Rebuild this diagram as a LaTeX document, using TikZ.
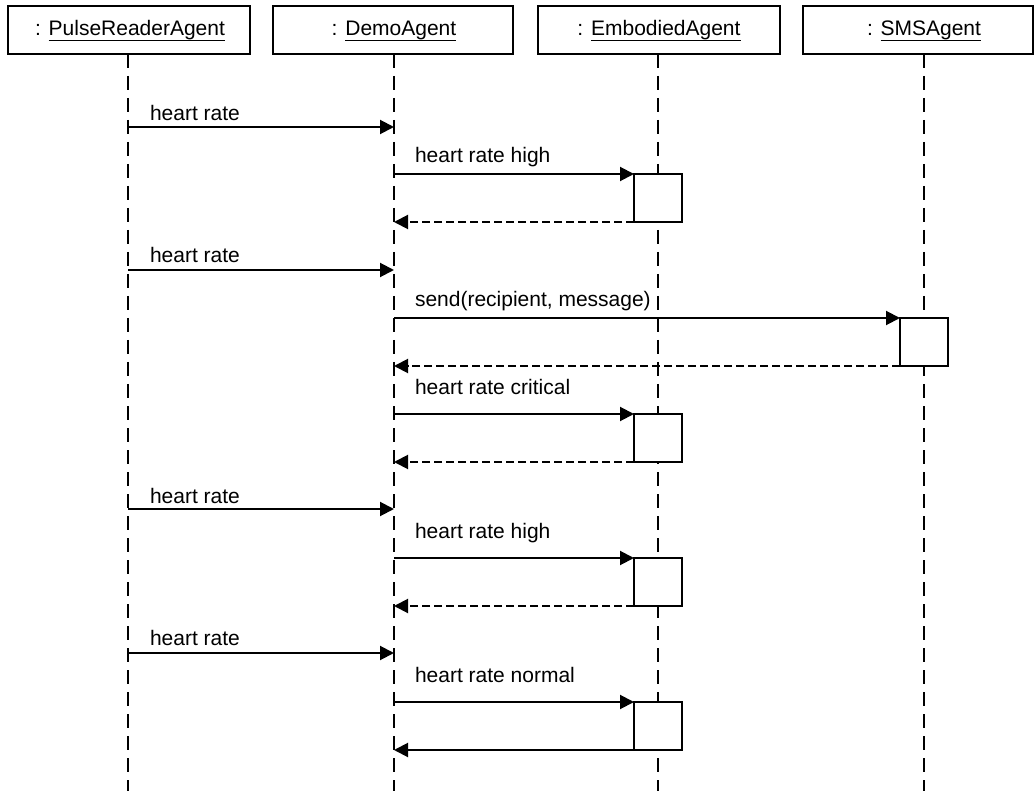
\documentclass[tikz,border=0pt]{standalone}
\usepackage{fontspec}
\setmainfont{Liberation Sans}
\usetikzlibrary{arrows.meta}

% underline drawn as a thin rule just under the baseline
\newcommand\undername[1]{\setbox0\hbox{#1}\rlap{\vrule width\wd0 height -4pt depth 5.5pt}\box0}

\begin{document}
\begin{tikzpicture}[x=1pt,y=-1pt,
  font=\fontsize{21}{25}\selectfont,
  head/.style={draw, line width=2pt, minimum height=48pt, inner sep=0pt, outer sep=0pt},
  headtext/.style={anchor=base, inner sep=0pt},
  life/.style={line width=2pt, dash pattern=on 14pt off 8pt},
  act/.style={draw, fill=white, line width=2pt, minimum width=48pt, minimum height=48pt,
              inner sep=0pt, outer sep=0pt, anchor=north},
  msg/.style={line width=2pt, -{Triangle[length=14pt,width=14pt]}},
  ret/.style={msg, dash pattern=on 8pt off 4pt},
  lbl/.style={anchor=base west, inner sep=0pt}
]
\useasboundingbox (0,0) rectangle (1036,791);

% object heads
\node[head, minimum width=242pt] (pr)   at (129,30) {};
\node[head, minimum width=240pt] (demo) at (393,30) {};
\node[head, minimum width=242pt] (emb)  at (659,30) {};
\node[head, minimum width=230pt] (sms)  at (918,30) {};
\node[headtext] (prt)   at (130,36) {: \undername{PulseReaderAgent}};
\node[headtext] (demot) at (394,36) {: \undername{DemoAgent}};
\node[headtext] (embt)  at (659,36) {: \undername{EmbodiedAgent}};
\node[headtext] (smst)  at (924,36) {: \undername{SMSAgent}};

% lifeline ends
\coordinate (prb)   at (128,791);
\coordinate (demob) at (394,791);
\coordinate (embb)  at (658,791);
\coordinate (smsb)  at (924,791);
\draw[life] (prb |- pr.south) -- (prb);
\draw[life] (demob |- demo.south) -- (demob);
\draw[life] (embb |- emb.south) -- (embb);
\draw[life] (smsb |- sms.south) -- (smsb);

% activation boxes
\node[act] (e1) at (658,174) {};
\node[act] (s1) at (924,318) {};
\node[act] (e2) at (658,414) {};
\node[act] (e3) at (658,558) {};
\node[act] (e4) at (658,702) {};

% message end points on the lifelines
\coordinate (p1) at (128,127); \coordinate (d1) at (394,127);
\coordinate (d2) at (394,174); \coordinate (d2r) at (394,222);
\coordinate (p3) at (128,270); \coordinate (d3) at (394,270);
\coordinate (d4) at (394,318); \coordinate (d4r) at (394,366);
\coordinate (d5) at (394,414); \coordinate (d5r) at (394,462);
\coordinate (p6) at (128,509); \coordinate (d6) at (394,509);
\coordinate (d7) at (394,558); \coordinate (d7r) at (394,606);
\coordinate (p8) at (128,653); \coordinate (d8) at (394,653);
\coordinate (d9) at (394,702); \coordinate (d9r) at (394,750);

% messages
\draw[msg] (p1) -- (d1) node[lbl, pos=0, xshift=21pt, yshift=6pt] {heart rate};
\draw[msg] (d2) -- (e1.north west) node[lbl, pos=0, xshift=20pt, yshift=11pt] {heart rate high};
\draw[ret] (e1.south west) -- (d2r);
\draw[msg] (p3) -- (d3) node[lbl, pos=0, xshift=21pt, yshift=7pt] {heart rate};
\draw[msg] (d4) -- (s1.north west) node[lbl, pos=0, xshift=20pt, yshift=11pt] {send(recipient, message)};
\draw[ret] (s1.south west) -- (d4r);
\draw[msg] (d5) -- (e2.north west) node[lbl, pos=0, xshift=20pt, yshift=19pt] {heart rate critical};
\draw[ret] (e2.south west) -- (d5r);
\draw[msg] (p6) -- (d6) node[lbl, pos=0, xshift=21pt, yshift=6pt] {heart rate};
\draw[msg] (d7) -- (e3.north west) node[lbl, pos=0, xshift=20pt, yshift=20pt] {heart rate high};
\draw[ret] (e3.south west) -- (d7r);
\draw[msg] (p8) -- (d8) node[lbl, pos=0, xshift=21pt, yshift=8pt] {heart rate};
\draw[msg] (d9) -- (e4.north west) node[lbl, pos=0, xshift=20pt, yshift=20pt] {heart rate normal};
\draw[msg] (e4.south west) -- (d9r);
\end{tikzpicture}
\end{document}
